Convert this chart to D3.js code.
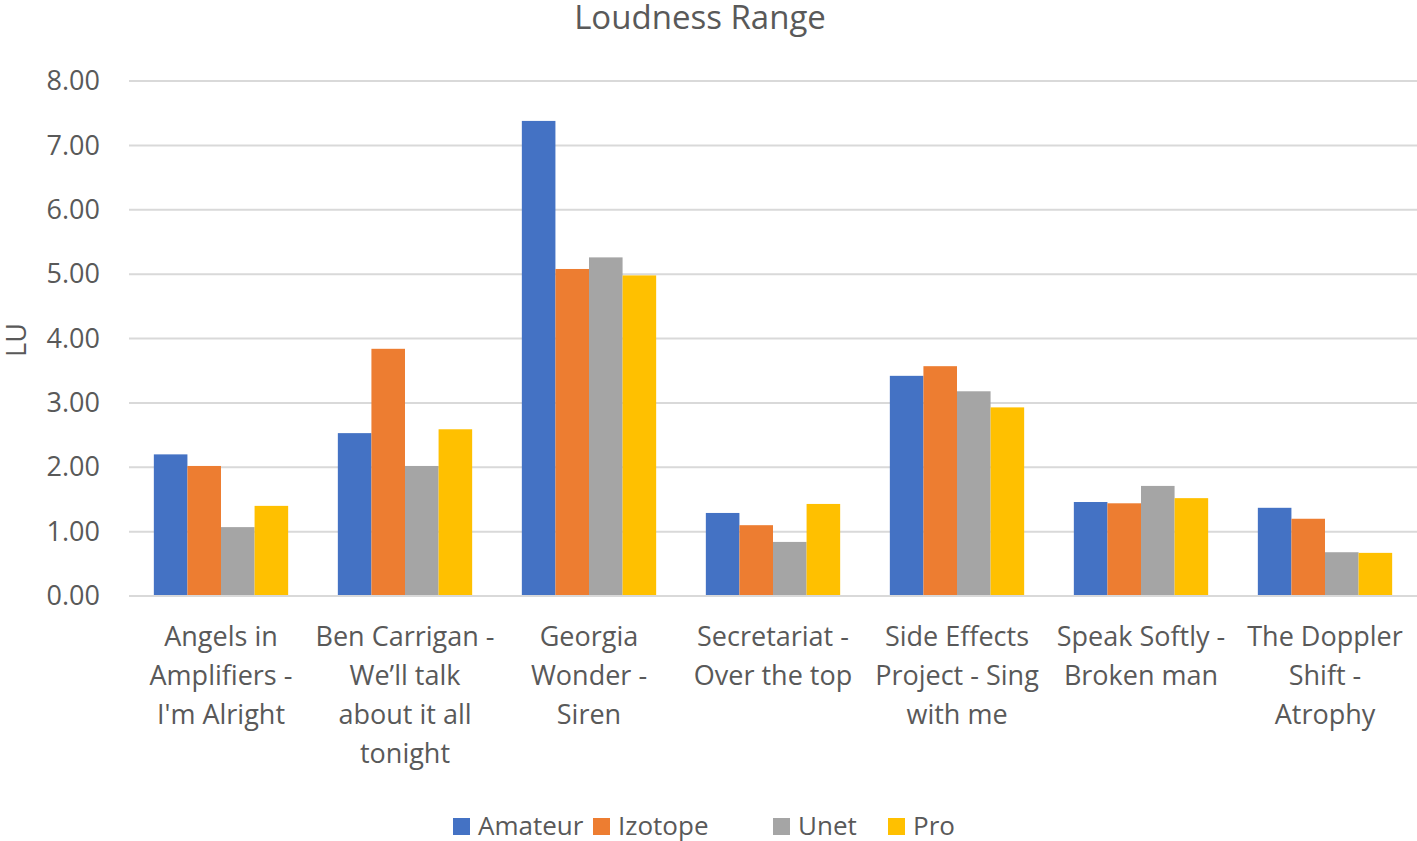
<!DOCTYPE html>
<html><head><meta charset="utf-8">
<script src="https://cdn.jsdelivr.net/npm/d3@7"></script>
<style>html,body{margin:0;padding:0;background:#fff;overflow:hidden}</style>
</head><body>
<svg id="chart" width="1417" height="841"></svg>
<script>
const categories = [
  ["Angels in", "Amplifiers -", "I'm Alright"],
  ["Ben Carrigan -", "We\u2019ll talk", "about it all", "tonight"],
  ["Georgia", "Wonder -", "Siren"],
  ["Secretariat -", "Over the top"],
  ["Side Effects", "Project - Sing", "with me"],
  ["Speak Softly -", "Broken man"],
  ["The Doppler", "Shift -", "Atrophy"]
];
const seriesNames = ["Amateur", "Izotope", "Unet", "Pro"];
const amateur = [2.20, 2.53, 7.38, 1.29, 3.42, 1.46, 1.37];
const izotope = [2.02, 3.84, 5.08, 1.10, 3.57, 1.44, 1.20];
const unet    = [1.07, 2.02, 5.26, 0.84, 3.18, 1.71, 0.68];
const pro     = [1.40, 2.59, 4.98, 1.43, 2.93, 1.52, 0.67];
const yTicks = [0, 1, 2, 3, 4, 5, 6, 7, 8];
const colors = ["#4472C4", "#ED7D31", "#A5A5A5", "#FFC000"];
const series = [amateur, izotope, unet, pro];

const font = "'Open Sans', Lato, sans-serif";
const svg = d3.select("#chart");
const pLeft = 129, pRight = 1417, pTop = 81, pBottom = 596;

const x = d3.scaleBand().domain(d3.range(categories.length)).range([pLeft, pRight]).paddingInner(0.27).paddingOuter(0.135);
const xs = d3.scaleBand().domain(d3.range(series.length)).range([0, x.bandwidth()]);
const y = d3.scaleLinear().domain([0, 8]).range([pBottom, pTop]);

// gridlines
svg.append("g").selectAll("line").data(yTicks).join("line")
  .attr("x1", pLeft).attr("x2", pRight)
  .attr("y1", d => y(d)).attr("y2", d => y(d))
  .attr("stroke", "#d9d9d9").attr("stroke-width", 2);

// y tick labels
const yAxis = d3.axisLeft(y).tickValues(yTicks).tickFormat(d3.format(".2f")).tickSize(0).tickPadding(0);
const ya = svg.append("g").attr("transform", `translate(100,0)`).call(yAxis);
ya.select(".domain").remove();
ya.selectAll("text").attr("font-family", font).attr("font-size", 27).attr("fill", "#595959");

// bars
series.forEach((vals, si) => {
  svg.append("g").selectAll("rect").data(vals).join("rect")
    .attr("x", (d, i) => x(i) + xs(si))
    .attr("y", d => y(d))
    .attr("width", xs.bandwidth())
    .attr("height", d => pBottom - y(d))
    .attr("fill", colors[si]);
});

// baseline
svg.append("line").attr("x1", pLeft).attr("x2", pRight).attr("y1", pBottom).attr("y2", pBottom)
  .attr("stroke", "#d9d9d9").attr("stroke-width", 2);

// x labels
const xl = svg.append("g");
categories.forEach((lines, i) => {
  const cx = x(i) + x.bandwidth() / 2;
  const t = xl.append("text").attr("text-anchor", "middle").attr("font-family", font)
    .attr("font-size", 27).attr("fill", "#595959");
  lines.forEach((ln, k) => {
    t.append("tspan").attr("x", cx).attr("y", 646 + k * 39).text(ln);
  });
});

// title
svg.append("text").attr("x", 700).attr("y", 29).attr("text-anchor", "middle")
  .attr("font-family", font).attr("font-size", 33).attr("fill", "#595959").text("Loudness Range");

// y axis label
svg.append("text").attr("transform", "translate(26,340) rotate(-90)").attr("text-anchor", "middle")
  .attr("font-family", font).attr("font-size", 27).attr("fill", "#595959").text("LU");

// legend
const legX = [453, 593, 773, 888];
const lg = svg.append("g");
seriesNames.forEach((n, i) => {
  lg.append("rect").attr("x", legX[i]).attr("y", 818).attr("width", 17).attr("height", 17).attr("fill", colors[i]);
  lg.append("text").attr("x", legX[i] + 25).attr("y", 835).attr("font-family", font)
    .attr("font-size", 26).attr("fill", "#595959").text(n);
});
</script>
</body></html>
